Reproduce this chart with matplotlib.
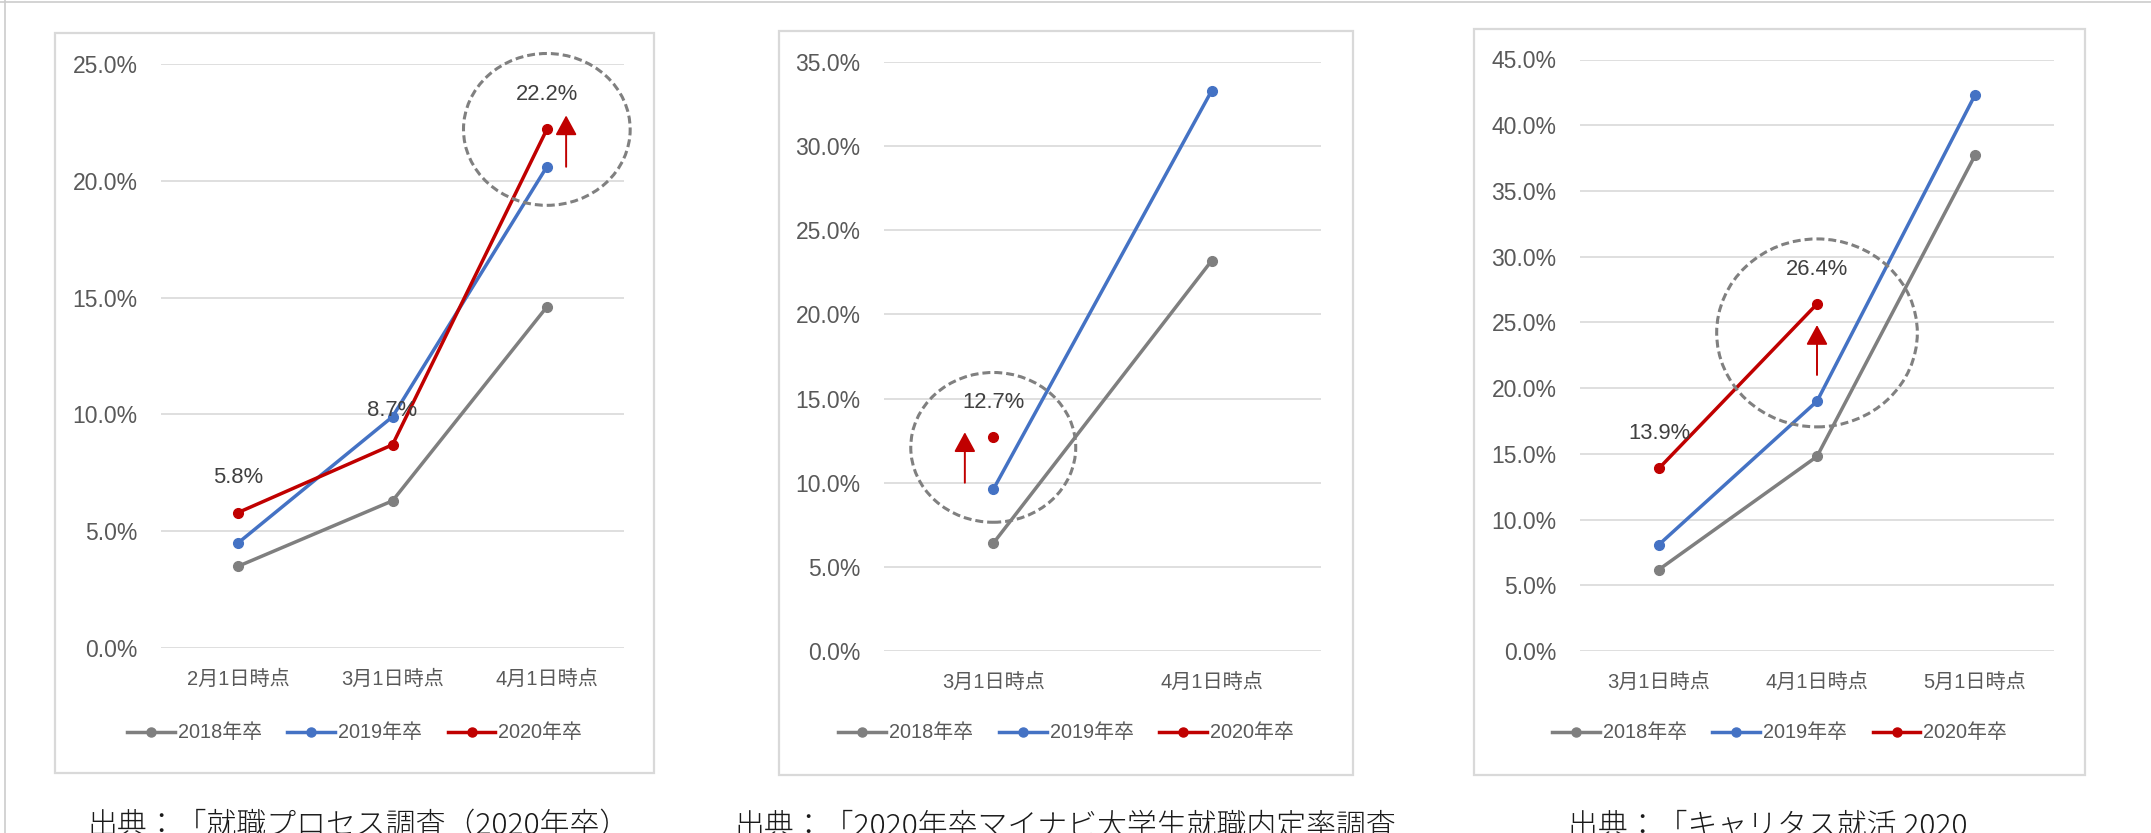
import numpy as np
import matplotlib
matplotlib.use("Agg")
import matplotlib.pyplot as plt
from matplotlib.lines import Line2D
from matplotlib.patches import Ellipse, Rectangle

# --- data (percent) ---
years = ['2018年卒', '2019年卒', '2020年卒']

cats_a = ['2月1日時点', '3月1日時点', '4月1日時点']
a_2018 = [3.5, 6.3, 14.6]
a_2019 = [4.5, 9.9, 20.6]
a_2020 = [5.8, 8.7, 22.2]

cats_b = ['3月1日時点', '4月1日時点']
b_2018 = [6.4, 23.2]
b_2019 = [9.6, 33.3]
b_2020 = [12.7, np.nan]

cats_c = ['3月1日時点', '4月1日時点', '5月1日時点']
c_2018 = [6.2, 14.8, 37.7]
c_2019 = [8.1, 19.0, 42.3]
c_2020 = [13.9, 26.4, np.nan]

captions = ['出典：「就職プロセス調査（2020年卒）',
            '出典：「2020年卒マイナビ大学生就職内定率調査',
            '出典：「キャリタス就活 2020']

COLORS = ['#7f7f7f', '#4472c4', '#c00000']
TXT = '#595959'
W, H = 2151, 833

plt.rcParams['font.family'] = ['Liberation Sans', 'Noto Sans CJK JP', 'DejaVu Sans']

fig = plt.figure(figsize=(W / 100, H / 100), dpi=100)


def frac(x0, y0, x1, y1):
    # pixel box (top-left origin) -> figure fraction rect
    return [x0 / W, 1 - y1 / H, (x1 - x0) / W, (y1 - y0) / H]


# page frame lines
fig.add_artist(Line2D([0, 1], [1 - 2 / H, 1 - 2 / H], color='#cccccc', lw=1.2))
fig.add_artist(Line2D([5 / W, 5 / W], [0, 1], color='#cccccc', lw=1.2))

panels = [
    dict(box=(55, 33, 654, 773), area=(161, 64, 624, 648), ymax=25, cats=cats_a,
         series=[a_2018, a_2019, a_2020],
         ellipse=(2, 22.2, 1.08, 6.5), arrow=(2.125, 20.6, 22.8), cap_x=87),
    dict(box=(779, 31, 1353, 775), area=(884, 62, 1321, 651), ymax=35, cats=cats_b,
         series=[b_2018, b_2019, b_2020],
         ellipse=(0, 12.1, 0.755, 8.9), arrow=(-0.13, 10.0, 13.0), cap_x=734),
    dict(box=(1474, 29, 2085, 775), area=(1580, 59.5, 2054, 651), ymax=45, cats=cats_c,
         series=[c_2018, c_2019, c_2020],
         ellipse=(1, 24.2, 1.27, 14.3), arrow=(1.0, 21.0, 24.8), cap_x=1568),
]

for p in panels:
    bx0, by0, bx1, by1 = p['box']
    fig.add_artist(Rectangle((bx0 / W, 1 - by1 / H), (bx1 - bx0) / W, (by1 - by0) / H,
                             transform=fig.transFigure, facecolor='white',
                             edgecolor='#d9d9d9', lw=1.6, zorder=0))

    ax = fig.add_axes(frac(*p['area']))
    ax.set_facecolor('none')
    n = len(p['cats'])
    x = np.arange(n)
    for vals, col in zip(p['series'], COLORS):
        ax.plot(x, vals, color=col, lw=2.5, marker='o', ms=7, clip_on=False, zorder=3)

    # data labels for the 2020 series
    for xi, v in zip(x, p['series'][2]):
        if not np.isnan(v):
            ax.annotate(f'{v:.1f}%', (xi, v), xytext=(0, 25), textcoords='offset points',
                        ha='center', va='center', fontsize=15.8, color='#404040',
                        annotation_clip=False, zorder=5)

    ex, ey, ew, eh = p['ellipse']
    ell = Ellipse((ex, ey), ew, eh, fill=False, edgecolor='#808080', lw=2.2,
                  linestyle=(0, (2.6, 1.3)), clip_on=False, zorder=4)
    ax.add_patch(ell)

    axx, ay0, ay1 = p['arrow']
    ax.annotate('', xy=(axx, ay1), xytext=(axx, ay0), annotation_clip=False,
                arrowprops=dict(arrowstyle='-|>,head_length=0.55,head_width=0.3',
                                color='#c00000', lw=1.4, shrinkA=0, shrinkB=0,
                                mutation_scale=22))

    ax.set_xlim(-0.5, n - 0.5)
    ax.set_ylim(0, p['ymax'])
    ax.set_yticks(np.arange(0, p['ymax'] + 1, 5))
    ax.set_yticklabels([f'{t:.1f}%' for t in np.arange(0, p['ymax'] + 1, 5)])
    ax.set_xticks(x)
    ax.set_xticklabels(p['cats'])
    ax.tick_params(axis='y', length=0, pad=17, labelsize=16.5, labelcolor=TXT)
    ax.tick_params(axis='x', length=0, pad=15.5, labelsize=14.5, labelcolor=TXT)
    ax.yaxis.grid(True, color='#d9d9d9', lw=1.2)
    ax.set_axisbelow(True)
    for s in ax.spines.values():
        s.set_visible(False)

    handles = [Line2D([0], [0], color=c, lw=2.5, marker='o', ms=6.5) for c in COLORS]
    fig.legend(handles, years, loc='center', ncol=3, frameon=False,
               bbox_to_anchor=((bx0 + bx1) / 2 / W, 1 - 733 / H),
               fontsize=14.3, handlelength=2.4, handletextpad=0.15,
               columnspacing=1.3, labelcolor=TXT)

for p, cap in zip(panels, captions):
    fig.text(p['cap_x'] / W, 1 - 811 / H, cap, ha='left', va='top', fontsize=21.5,
             color='#1a1a1a', family=['Noto Sans CJK JP'], fontweight='light')

fig.savefig('out.png', dpi=100)
